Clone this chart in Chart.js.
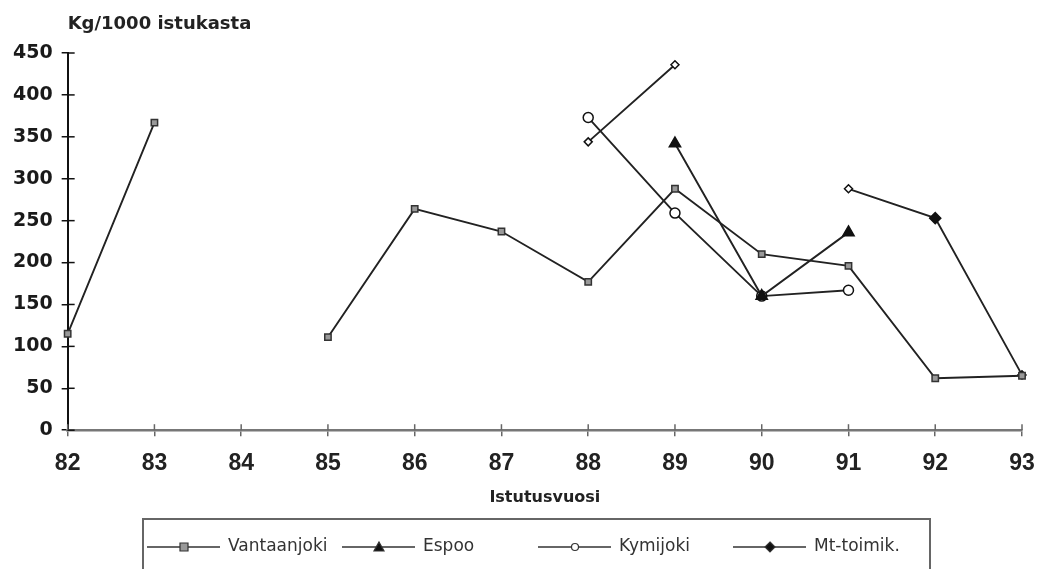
<!DOCTYPE html>
<html>
<head>
<meta charset="utf-8">
<script src="https://cdn.jsdelivr.net/npm/chart.js@4/dist/chart.umd.min.js"></script>
<style>
  html, body { margin: 0; padding: 0; background: #fff; }
  #wrap { width: 1040px; height: 569px; }
</style>
</head>
<body>
<div id="wrap"><canvas id="chart" width="1040" height="569"></canvas></div>
<script>
// data
const years = ['82', '83', '84', '85', '86', '87', '88', '89', '90', '91', '92', '93'];
const vantaanjoki = [115, 367, null, 111, 264, 237, 177, 288, 210, 196, 62, 65];
const espoo = [null, null, null, null, null, null, null, 342, 160, 236, null, null];
const kymijoki = [null, null, null, null, null, null, 373, 259, 160, 167, null, null];
const mtToimik = [null, null, null, null, null, null, 344, 436, null, 288, 253, 66];
const mtFill = ['#fff', '#fff', '#fff', '#fff', '#fff', '#fff', '#fff', '#fff', '#fff', '#fff', '#111', '#fff'];
const mtRadius = [4, 4, 4, 4, 4, 4, 4, 4, 4, 4, 5.5, 4];

const BOLD = '"DejaVu Sans", sans-serif';
const LINE = '#222';

// little legend swatch: line with the marker in the middle
function swatch(style, fill) {
    const c = document.createElement('canvas');
    c.width = 73; c.height = 14;
    const g = c.getContext('2d');
    g.strokeStyle = '#333'; g.lineWidth = 1.6;
    g.beginPath(); g.moveTo(0, 7); g.lineTo(73, 7); g.stroke();
    g.fillStyle = fill; g.lineWidth = 1.2;
    g.beginPath();
    if (style === 'rect') g.rect(33, 3, 8, 8);
    else if (style === 'triangle') { g.moveTo(37, 2); g.lineTo(42, 11); g.lineTo(32, 11); g.closePath(); }
    else if (style === 'circle') g.arc(37, 7, 3.5, 0, Math.PI * 2);
    else { g.moveTo(37, 2); g.lineTo(42, 7); g.lineTo(37, 12); g.lineTo(32, 7); g.closePath(); }
    g.fill(); g.stroke();
    return c;
}
const swatches = [swatch('rect', '#999'), swatch('triangle', '#111'), swatch('circle', '#fff'), swatch('diamond', '#111')];
const legendX = [147, 342, 538, 733];

const decor = {
    id: 'decor',
    afterDraw(chart) {
        const ctx = chart.ctx, a = chart.chartArea;
        const x = chart.scales.x, y = chart.scales.y;
        ctx.save();
        // inner halves of the tick marks
        ctx.lineWidth = 1.5;
        ctx.strokeStyle = '#111';
        y.ticks.forEach((t, i) => {
            const py = y.getPixelForTick(i);
            ctx.beginPath(); ctx.moveTo(a.left, py); ctx.lineTo(a.left + 7, py); ctx.stroke();
        });
        ctx.strokeStyle = '#666';
        x.ticks.forEach((t, i) => {
            const px = x.getPixelForTick(i);
            ctx.beginPath(); ctx.moveTo(px, a.bottom); ctx.lineTo(px, a.bottom - 6); ctx.stroke();
        });
        // unit text above the y axis
        ctx.fillStyle = '#222';
        ctx.font = 'bold 18px ' + BOLD;
        ctx.textBaseline = 'alphabetic';
        ctx.fillText('Kg/1000 istukasta', a.left, 29);
        // legend
        const ly = 547;
        ctx.font = '17px ' + BOLD;
        ctx.textBaseline = 'middle';
        ctx.fillStyle = '#333';
        chart.data.datasets.forEach((ds, i) => {
            ctx.drawImage(swatches[i], legendX[i], ly - 7);
            ctx.fillText(ds.label, legendX[i] + 81, ly);
        });
        ctx.strokeStyle = '#666'; ctx.lineWidth = 2;
        ctx.beginPath();
        ctx.moveTo(143, 575); ctx.lineTo(143, 519); ctx.lineTo(930, 519); ctx.lineTo(930, 575);
        ctx.stroke();
        ctx.restore();
    }
};

new Chart(document.getElementById('chart'), {
    type: 'line',
    data: {
        labels: years,
        datasets: [
            { label: 'Vantaanjoki', data: vantaanjoki, borderColor: LINE, pointStyle: 'rect', pointRadius: 4.5,
              pointBackgroundColor: '#999', pointBorderColor: '#333' },
            { label: 'Espoo', data: espoo, borderColor: LINE, pointStyle: 'triangle', pointRadius: 6.5,
              pointBackgroundColor: '#111', pointBorderColor: '#111' },
            { label: 'Kymijoki', data: kymijoki, borderColor: LINE, pointStyle: 'circle', pointRadius: 5,
              pointBackgroundColor: '#fff', pointBorderColor: '#111' },
            { label: 'Mt-toimik.', data: mtToimik, borderColor: LINE, pointStyle: 'rectRot', pointRadius: mtRadius,
              pointBackgroundColor: mtFill, pointBorderColor: '#111' }
        ]
    },
    options: {
        responsive: false,
        animation: false,
        spanGaps: false,
        layout: { padding: { top: 53, right: 18, left: 4, bottom: 62 } },
        elements: { line: { borderWidth: 1.9, tension: 0 }, point: { borderWidth: 1.5 } },
        scales: {
            x: {
                offset: false,
                afterFit(scale) { scale.paddingRight = 0; },
                grid: { drawOnChartArea: false, tickLength: 6, color: '#666', lineWidth: 1.5 },
                border: { color: '#777', width: 2.5 },
                ticks: { color: '#222', font: { family: '"Liberation Sans", Arial, sans-serif', size: 23, weight: 'bold' }, padding: 14 },
                title: { display: true, text: 'Istutusvuosi', color: '#222',
                         font: { family: BOLD, size: 16, weight: 'bold' }, padding: { top: -4, bottom: 0 } }
            },
            y: {
                min: 0, max: 450,
                grid: { drawOnChartArea: false, tickLength: 6, color: '#111', lineWidth: 1.5 },
                border: { color: '#111', width: 2 },
                ticks: { stepSize: 50, color: '#1a1a1a', font: { family: BOLD, size: 19, weight: 'bold' }, padding: 9 }
            }
        },
        plugins: {
            tooltip: { enabled: false },
            legend: { display: false }
        }
    },
    plugins: [decor]
});
</script>
</body>
</html>
